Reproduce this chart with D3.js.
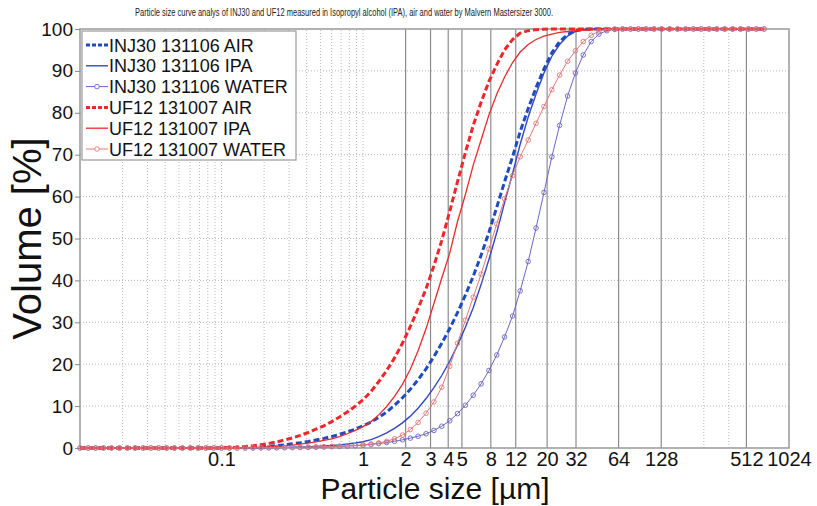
<!DOCTYPE html>
<html>
<head>
<meta charset="utf-8">
<script src="https://cdn.jsdelivr.net/npm/d3@7"></script>
<style>
  body { margin: 0; background: #fff; }
  svg { font-family: "Liberation Sans", Arial, sans-serif; }
</style>
</head>
<body>
<div id="container"></div>
<script>
let w = 817;
let h = 506;

// size classes (um)
const sizes = [
  0.01,0.0114,0.0129,0.0147,0.0167,0.019,0.0216,0.0245,0.0279,0.0317,
  0.036,0.041,0.0465,0.0529,0.0601,0.0683,0.0776,0.0882,0.1,0.114,
  0.129,0.147,0.167,0.19,0.216,0.245,0.279,0.317,0.36,0.41,
  0.465,0.529,0.601,0.683,0.776,0.882,1,1.14,1.29,1.47,
  1.67,1.9,2.16,2.45,2.79,3.17,3.6,4.1,4.65,5.29,
  6.01,6.83,7.76,8.82,10,11.4,12.9,14.7,16.7,19,
  21.6,24.5,27.9,31.7,36,41,46.5,52.9,60.1,68.3,
  77.6,88.2,100,114,129,147,167,190,216,245,
  279,317,360,410,465,529,601,683
];

// cumulative volume (%)
const inj30Air = [
  0,0,0,0,0,0,0,0,0,0,
  0,0,0,0,0,0,0,0,0,0.05,
  0.1,0.15,0.2,0.3,0.4,0.55,0.75,1.0,1.25,1.55,
  1.9,2.3,2.75,3.25,3.85,4.5,5.3,6.2,7.3,8.6,
  10.2,12.0,14.0,16.3,18.9,21.8,25.0,28.5,32.3,36.5,
  41.0,46.0,51.5,57.5,63.5,69.5,75.5,81.0,86.0,90.5,
  94.3,97.0,98.7,99.6,99.9,100,100,100,100,100,
  100,100,100,100,100,100,100,100,100,100,
  100,100,100,100,100,100,100,100
];
const inj30Ipa = [
  0,0,0,0,0,0,0,0,0,0,
  0,0,0,0,0,0,0,0,0,0,
  0,0.02,0.04,0.06,0.08,0.1,0.15,0.2,0.25,0.3,
  0.4,0.5,0.6,0.75,0.95,1.2,1.5,2.0,2.7,3.6,
  4.7,6.0,7.6,9.5,11.8,14.4,17.3,20.7,24.5,28.8,
  33.5,39.0,45.0,51.5,58.5,65.5,72.5,79.0,84.5,89.5,
  93.5,96.3,98.3,99.4,99.8,100,100,100,100,100,
  100,100,100,100,100,100,100,100,100,100,
  100,100,100,100,100,100,100,100
];
const inj30Water = [
  0,0,0,0,0,0,0,0,0,0,
  0,0,0,0,0,0,0,0,0,0,
  0,0.01,0.02,0.03,0.04,0.05,0.07,0.09,0.12,0.15,
  0.19,0.24,0.3,0.37,0.45,0.55,0.68,0.85,1.05,1.3,
  1.6,1.95,2.35,2.8,3.4,4.2,5.2,6.5,8.2,10.2,
  12.6,15.3,18.5,22.2,26.5,31.5,37.5,44.5,52.5,61.0,
  69.5,77.0,84.0,89.5,93.8,97.0,98.8,99.6,99.9,100,
  100,100,100,100,100,100,100,100,100,100,
  100,100,100,100,100,100,100,100
];
const uf12Air = [
  0,0,0,0,0,0,0,0,0,0,
  0,0,0,0,0,0,0,0,0,0.1,
  0.2,0.35,0.55,0.8,1.1,1.45,1.9,2.4,3.0,3.7,
  4.5,5.3,6.3,7.4,8.6,10.0,11.5,13.5,15.8,18.5,
  21.5,25.0,29.0,33.3,38.0,43.5,49.5,56.5,63.5,70.5,
  77.0,82.5,87.5,91.5,95.0,97.5,99.0,99.6,99.85,99.95,
  100,100,100,100,100,100,100,100,100,100,
  100,100,100,100,100,100,100,100,100,100,
  100,100,100,100,100,100,100,100
];
const uf12Ipa = [
  0,0,0,0,0,0,0,0,0,0,
  0,0,0,0,0,0,0,0,0,0,
  0.05,0.1,0.15,0.2,0.3,0.4,0.55,0.7,0.9,1.15,
  1.45,1.8,2.2,2.7,3.4,4.2,5.1,6.3,7.9,9.9,
  12.3,15.2,18.8,23.2,28.5,34.5,40.5,46.5,54.0,60.5,
  67.5,73.5,79.5,84.5,88.5,92.0,94.5,96.3,97.5,98.3,
  98.8,99.2,99.4,99.6,99.7,99.8,99.9,100,100,100,
  100,100,100,100,100,100,100,100,100,100,
  100,100,100,100,100,100,100,100
];
const uf12Water = [
  0,0,0,0,0,0,0,0,0,0,
  0,0,0,0,0,0,0,0,0,0,
  0,0.02,0.03,0.05,0.07,0.1,0.12,0.15,0.18,0.22,
  0.27,0.32,0.38,0.45,0.53,0.62,0.75,0.95,1.2,1.6,
  2.2,3.1,4.4,6.1,8.3,11.0,14.5,19.5,25.0,30.5,
  36.0,41.5,47.5,53.5,59.5,65.0,69.5,73.5,77.5,81.5,
  85.5,89.0,92.3,94.8,97.0,98.5,99.5,99.9,100,100,
  100,100,100,100,100,100,100,100,100,100,
  100,100,100,100,100,100,100,100
];

const seriesNames = ["INJ30 131106 AIR","INJ30 131106 IPA","INJ30 131106 WATER",
                     "UF12 131007 AIR","UF12 131007 IPA","UF12 131007 WATER"];
const xTicks = [0.1,1,2,3,4,5,8,12,20,32,64,128,512,1024];
const sieveLines = [2,3,4,5,8,12,20,32,64,128,512];
const minorGrid = [0.02,0.03,0.04,0.05,0.06,0.07,0.08,0.09,0.1,
                   0.2,0.3,0.4,0.5,0.6,0.7,0.8,0.9,1,256,384];
const yTicks = [0,10,20,30,40,50,60,70,80,90,100];

let series = [
  {name: seriesNames[0], vals: inj30Air,   color: "#1e4cc0", width: 3,   dash: "6,3", marker: false},
  {name: seriesNames[1], vals: inj30Ipa,   color: "#3347c2", width: 1.4, dash: null,  marker: false},
  {name: seriesNames[2], vals: inj30Water, color: "#6a66c2", width: 1,   dash: null,  marker: true},
  {name: seriesNames[3], vals: uf12Air,    color: "#f0262a", width: 3,   dash: "6,3", marker: false},
  {name: seriesNames[4], vals: uf12Ipa,    color: "#e82a2e", width: 1.3, dash: null,  marker: false},
  {name: seriesNames[5], vals: uf12Water,  color: "#e27878", width: 1,   dash: null,  marker: true}
];

let viz = d3.select("#container").append("svg")
    .attr("width", w)
    .attr("height", h)
    .style("background-color", "white");

let x = d3.scaleLog().domain([0.01, 1024]).range([80, 789]);
let y = d3.scaleLinear().domain([0, 100]).range([448, 29]);

// title
viz.append("text")
  .attr("x", 344).attr("y", 16)
  .attr("text-anchor", "middle")
  .attr("font-size", 10)
  .attr("textLength", 418)
  .attr("lengthAdjust", "spacingAndGlyphs")
  .attr("fill", "#222")
  .text("Particle size curve analys of INJ30 and UF12 measured in Isopropyl alcohol (IPA), air and water by Malvern Mastersizer 3000.");

// dotted grid
viz.selectAll(".hgrid").data(yTicks.slice(1, -1)).enter()
  .append("line")
    .attr("class", "hgrid")
    .attr("x1", 80).attr("x2", 789)
    .attr("y1", d => y(d)).attr("y2", d => y(d))
    .attr("stroke", "#b8b8b8").attr("stroke-width", 1)
    .attr("stroke-dasharray", "1,2");

viz.selectAll(".vgrid").data(minorGrid).enter()
  .append("line")
    .attr("class", "vgrid")
    .attr("x1", d => x(d)).attr("x2", d => x(d))
    .attr("y1", y(0)).attr("y2", y(100))
    .attr("stroke", "#b8b8b8").attr("stroke-width", 1)
    .attr("stroke-dasharray", "1,2");

// solid sieve lines
viz.selectAll(".sieve").data(sieveLines).enter()
  .append("line")
    .attr("class", "sieve")
    .attr("x1", d => x(d)).attr("x2", d => x(d))
    .attr("y1", y(0)).attr("y2", y(100))
    .attr("stroke", "#8c8c8c").attr("stroke-width", 1.2);

// frame
viz.append("rect")
  .attr("x", 80).attr("y", y(100))
  .attr("width", 789 - 80).attr("height", y(0) - y(100))
  .attr("fill", "none").attr("stroke", "#999").attr("stroke-width", 1.5);

// axes
let yAxis = viz.append("g")
  .attr("transform", "translate(80,0)")
  .call(d3.axisLeft(y).tickValues(yTicks).tickSize(5).tickPadding(2));
yAxis.select(".domain").remove();
yAxis.selectAll("line").attr("stroke", "#888");
yAxis.selectAll("text").attr("font-size", 19).attr("fill", "#111")
  .attr("font-family", "Liberation Sans, Arial, sans-serif");

let xAxis = viz.append("g")
  .attr("transform", "translate(0," + y(0) + ")")
  .call(d3.axisBottom(x).tickValues(xTicks).tickFormat(d => String(d)).tickSize(0).tickPadding(4));
xAxis.select(".domain").remove();
xAxis.selectAll("text").attr("font-size", 20).attr("fill", "#111")
  .attr("font-family", "Liberation Sans, Arial, sans-serif");

// axis titles
viz.append("text")
  .attr("transform", "translate(41," + ((y(0) + y(100)) / 2) + ") rotate(-90)")
  .attr("text-anchor", "middle")
  .attr("font-size", 40)
  .attr("fill", "#111")
  .text("Volume [%]");

viz.append("text")
  .attr("x", 435).attr("y", 499)
  .attr("text-anchor", "middle")
  .attr("font-size", 30)
  .attr("fill", "#111")
  .text("Particle size [\u00b5m]");

// curves
let lineMaker = d3.line()
  .x(d => x(d[0]))
  .y(d => y(d[1]));

series.forEach(function(s){
  let pts = sizes.map((d, i) => [d, s.vals[i]]);
  viz.append("path")
    .datum(pts)
    .attr("d", lineMaker)
    .attr("fill", "none")
    .attr("stroke", s.color)
    .attr("stroke-width", s.width)
    .attr("stroke-dasharray", s.dash);
  if (s.marker) {
    viz.selectAll(".m" + s.name.replace(/\s/g, "")).data(pts).enter()
      .append("circle")
        .attr("cx", d => x(d[0]))
        .attr("cy", d => y(d[1]))
        .attr("r", 2.3)
        .attr("fill", "none")
        .attr("stroke", s.color)
        .attr("stroke-width", 0.9);
  }
});

// legend
let legend = viz.append("g");
legend.append("rect")
  .attr("x", 82).attr("y", 31)
  .attr("width", 214).attr("height", 129)
  .attr("fill", "white").attr("stroke", "#999").attr("stroke-width", 1.2);

let rowY = d3.scaleLinear().domain([0, 5]).range([45, 149]);
series.forEach(function(s, i){
  let cy = rowY(i);
  legend.append("line")
    .attr("x1", 86).attr("x2", 108)
    .attr("y1", cy).attr("y2", cy)
    .attr("stroke", s.color)
    .attr("stroke-width", s.width)
    .attr("stroke-dasharray", s.dash ? "4,2" : null);
  if (s.marker) {
    legend.append("circle")
      .attr("cx", 97).attr("cy", cy).attr("r", 2.3)
      .attr("fill", "white").attr("stroke", s.color).attr("stroke-width", 0.9);
  }
  legend.append("text")
    .attr("x", 109).attr("y", cy + 6.5)
    .attr("font-size", 18)
    .attr("fill", "#111")
    .text(s.name);
});
</script>
</body>
</html>
